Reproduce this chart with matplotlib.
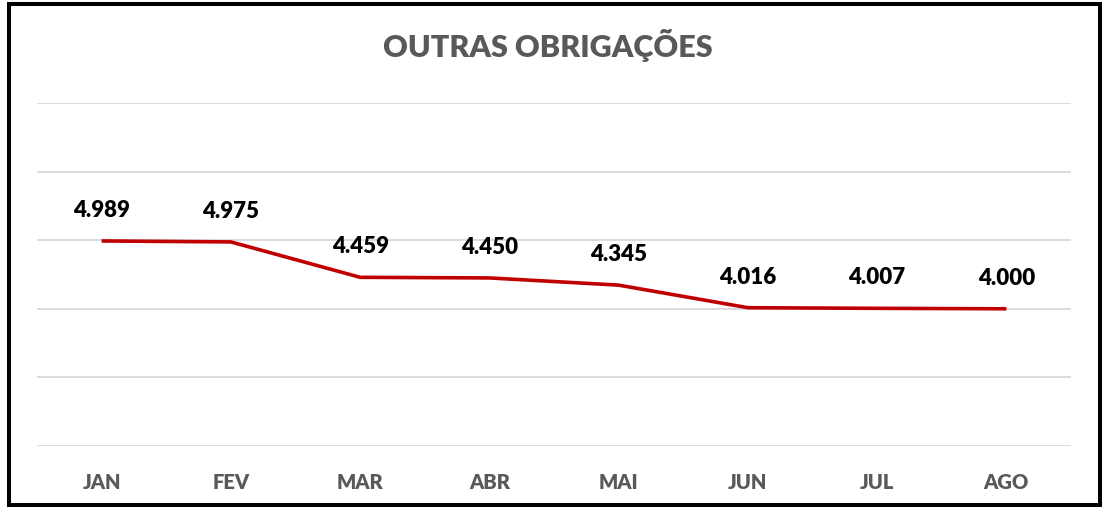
import matplotlib
matplotlib.use("Agg")
import matplotlib.pyplot as plt
from matplotlib.patches import Rectangle

months = ["JAN", "FEV", "MAR", "ABR", "MAI", "JUN", "JUL", "AGO"]
values = [4989, 4975, 4459, 4450, 4345, 4016, 4007, 4000]
labels = ["4.989", "4.975", "4.459", "4.450", "4.345", "4.016", "4.007", "4.000"]
title = "OUTRAS OBRIGAÇÕES"

FONT = "Lato"
W, H = 1104, 507
fig = plt.figure(figsize=(W / 100, H / 100), dpi=100)
fig.patch.set_facecolor("white")

ax = fig.add_axes([37 / W, 61 / H, (1071 - 37) / W, (446 - 103) / H])
x = list(range(len(months)))
ax.set_xlim(-0.5, len(months) - 0.5)
ax.set_ylim(2000, 7000)
ax.set_yticks([2000, 3000, 4000, 5000, 6000, 7000])
ax.yaxis.grid(True, color="#D9D9D9", linewidth=1.3)
ax.set_axisbelow(True)
for s in ax.spines.values():
    s.set_visible(False)
ax.tick_params(axis="y", left=False, labelleft=False)
ax.tick_params(axis="x", bottom=False, pad=16)
ax.set_xticks(x)
ax.set_xticklabels(months, fontfamily=FONT, fontweight="heavy", fontsize=14.5, color="#595959")

ax.plot(x, values, color="#C00000", linewidth=2.6, solid_capstyle="butt", zorder=3)
for xi, v, lab in zip(x, values, labels):
    ax.annotate(lab, (xi, v), xytext=(0, 22), textcoords="offset points",
                ha="center", va="center", fontfamily=FONT, fontweight="heavy",
                fontsize=16, color="black")

fig.text(548 / W, 1 - 45 / H, title, ha="center", va="center", fontfamily=FONT,
         fontweight="heavy", fontsize=22, color="#595959")

fig.patches.append(Rectangle((8.7 / W, 1 - 504.5 / H), (1099.7 - 8.7) / W, (504.5 - 3.8) / H,
                             transform=fig.transFigure, fill=False, edgecolor="black",
                             linewidth=2.9))

fig.savefig("out.png", dpi=100)
